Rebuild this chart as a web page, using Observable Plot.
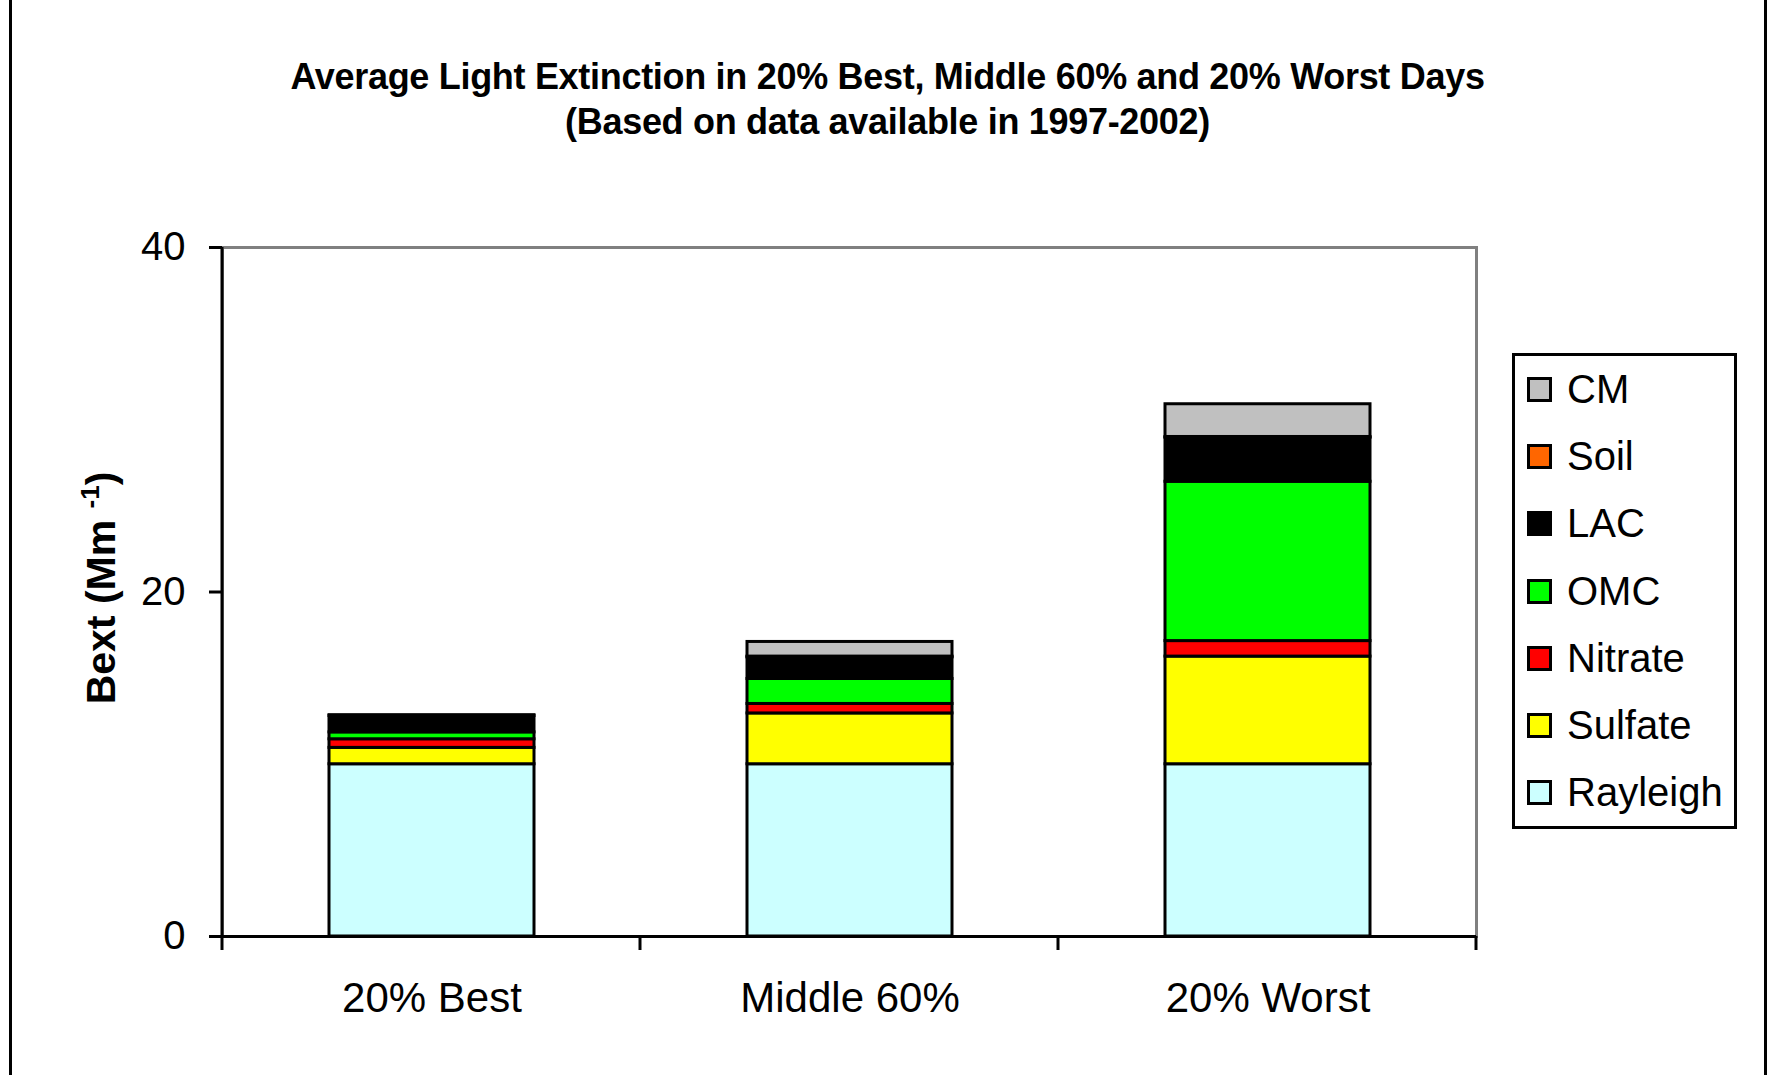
<!DOCTYPE html>
<html>
<head>
<meta charset="utf-8">
<script src="https://cdn.jsdelivr.net/npm/d3@7"></script>
<script src="https://cdn.jsdelivr.net/npm/@observablehq/plot@0.6"></script>
<style>
  html, body { margin: 0; padding: 0; background: #fff; }
  #page { position: relative; width: 1770px; height: 1075px; overflow: hidden; background: #fff; font-family: Arial, "Liberation Sans", sans-serif; }
  .vline { position: absolute; top: 0; width: 3px; height: 1075px; background: #000; z-index: 5; }
  .title { position: absolute; left: 0; width: 1775px; text-align: center; font-weight: bold; font-size: 36px; color: #000; line-height: 1; letter-spacing: -0.3px; }
  #plot { position: absolute; left: 0; top: 180px; }
  #ylabel { position: absolute; left: 101px; top: 588px; transform: translate(-50%, -50%) rotate(-90deg); font-weight: bold; font-size: 41px; white-space: nowrap; }
  #ylabel sup { font-size: 26px; vertical-align: 0.6em; line-height: 0; }
  #legend { position: absolute; left: 1512px; top: 353px; width: 219px; border: 3px solid #000; background: #fff; }
  .item { height: 67.2px; display: flex; align-items: center; font-size: 40px; }
  .sw { width: 19px; height: 19px; border: 3px solid #000; margin-left: 12px; margin-right: 15px; flex: none; }
</style>
</head>
<body>
<div id="page">
  <div class="title" style="top:59px">Average Light Extinction in 20% Best, Middle 60% and 20% Worst Days</div>
  <div class="title" style="top:104px">(Based on data available in 1997-2002)</div>
  <div id="plot"></div>
  <div id="ylabel">Bext (Mm <sup>-1</sup>)</div>
  <div id="legend"></div>
  <div class="vline" style="left:9px"></div>
  <div class="vline" style="left:1764px"></div>
</div>
<script>
const categories = ["20% Best", "Middle 60%", "20% Worst"];
const series = ["Rayleigh", "Sulfate", "Nitrate", "OMC", "LAC", "Soil", "CM"];
const colors = ["#CCFFFF", "#FFFF00", "#FF0000", "#00FF00", "#000000", "#FF6600", "#C0C0C0"];
const rayleigh = [10.0, 10.0, 10.0];
const sulfate  = [0.95, 2.95, 6.25];
const nitrate  = [0.5, 0.55, 0.9];
const omc      = [0.4, 1.45, 9.25];
const lac      = [0.95, 1.25, 2.55];
const soil     = [0.0, 0.05, 0.05];
const cm       = [0.05, 0.85, 1.9];
const yTicks = [0, 20, 40];

const seriesValues = [rayleigh, sulfate, nitrate, omc, lac, soil, cm];
const data = [];
categories.forEach((c, i) => {
  series.forEach((s, j) => {
    data.push({category: c, series: s, value: seriesValues[j][i]});
  });
});

const font = "Arial, 'Liberation Sans', sans-serif";

// left axis line + category separator ticks (Excel style)
function axisDecor(index, scales, values, dims) {
  const g = d3.create("svg:g");
  const y = scales.y;
  const left = dims.marginLeft;
  const right = dims.width - dims.marginRight;
  const y0 = y(0), y1 = y(yTicks[yTicks.length - 1]);
  g.append("line").attr("x1", left).attr("x2", left).attr("y1", y1).attr("y2", y0 + 14)
    .attr("stroke", "black").attr("stroke-width", 3);
  const n = categories.length;
  for (let i = 1; i <= n; i++) {
    const xx = left + (right - left) * i / n;
    g.append("line").attr("x1", xx).attr("x2", xx).attr("y1", y0).attr("y2", y0 + 14)
      .attr("stroke", "black").attr("stroke-width", 3);
  }
  return g.node();
}

const chart = Plot.plot({
  width: 1490,
  height: 856,
  marginLeft: 222,
  marginRight: 14,
  marginTop: 67,
  marginBottom: 100,
  style: {fontFamily: font, background: "transparent", color: "black"},
  x: {domain: categories, paddingInner: 0.51, paddingOuter: 0.255, label: null},
  y: {domain: [0, 40], label: null},
  color: {domain: series, range: colors},
  marks: [
    Plot.frame({stroke: "#808080", strokeWidth: 3}),
    Plot.barY(data, {x: "category", y: "value", fill: "series", stroke: "black", strokeWidth: 3, order: null}),
    Plot.ruleY([0], {stroke: "black", strokeWidth: 3}),
    axisDecor,
    Plot.axisY({ticks: yTicks, tickSize: 13, tickPadding: 24, fontSize: 40, strokeWidth: 3, label: null, tickFormat: d => String(d)}),
    Plot.axisX({tickSize: 0, tickPadding: 46, fontSize: 42, label: null})
  ]
});
document.getElementById("plot").appendChild(chart);

const legend = document.getElementById("legend");
for (let j = series.length - 1; j >= 0; j--) {
  const it = document.createElement("div");
  it.className = "item";
  const sw = document.createElement("div");
  sw.className = "sw";
  sw.style.background = colors[j];
  it.appendChild(sw);
  const t = document.createElement("span");
  t.textContent = series[j];
  it.appendChild(t);
  legend.appendChild(it);
}
</script>
</body>
</html>
